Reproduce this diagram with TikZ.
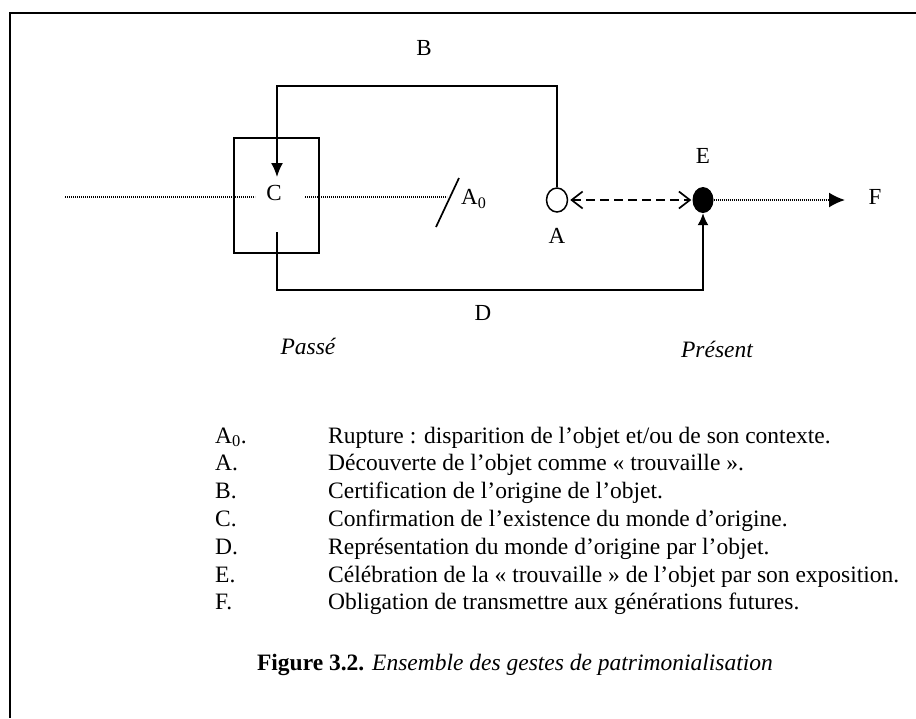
\documentclass[tikz,border=0pt]{standalone}
\usepackage{fontspec}
\setmainfont{Liberation Serif}
\usetikzlibrary{arrows.meta,shapes.geometric}
\begin{document}
\begin{tikzpicture}[x=1pt,y=-1pt,
  lbl/.style={font=\fontsize{23}{26}\selectfont, inner sep=0pt},
  leg/.style={font=\fontsize{23.5}{26}\selectfont, inner sep=0pt, anchor=base west},
  conn/.style={line width=1.7pt},
  dots/.style={line width=1.9pt, dash pattern=on 0.9pt off 1.1pt},
  fillarrow/.style={-{Latex[length=14pt,width=12pt]}},
]
\useasboundingbox (0,0) rectangle (916,718);
\fill[white] (0,0) rectangle (916,718);
% frame
\draw[line width=2.8pt] (916,13) -- (10,13) -- (10,718);

% box C
\node[draw, line width=1.7pt, minimum width=85pt, minimum height=115pt, inner sep=0pt] (box) at (276.5,195.5) {};
\node[lbl] (C) at (274,193) {C};
\coordinate (Cin) at (277,177);
\coordinate (Cout) at (277,232);

% dotted timeline
\coordinate (L0) at (65,197);
\coordinate (L1) at (255,197);
\coordinate (R0) at (305,197);
\coordinate (R1) at (447,197);
\draw[dots] (L0) -- (L1);
\draw[dots] (R0) -- (R1);

% slash A0
\coordinate (s1) at (436,227);
\coordinate (s2) at (459,178);
\draw[line width=1.7pt] (s1) -- (s2);
\node[lbl, anchor=west] (A0) at (461,199) {A\textsubscript{0}};

% node A (open) and E (filled)
\node[draw, ellipse, line width=1.5pt, minimum width=21pt, minimum height=24pt, inner sep=0pt] (A) at (557,200) {};
\node[fill=black, ellipse, minimum width=21pt, minimum height=26pt, inner sep=0pt] (E) at (703,200) {};
\node[lbl] (Alab) at (557,236) {A};
\node[lbl] (Elab) at (703,156) {E};
\node[lbl] (B) at (424,48) {B};
\node[lbl] (D) at (483,313) {D};
\coordinate (Fend) at (845,200);
\node[lbl] (F) at (875,197) {F};

% B connector
\draw[conn, fillarrow] (A.north) -- (557,86) -- (277,86) -- (Cin);
% D connector
\draw[conn, -{Latex[length=12pt,width=11pt]}] (Cout) -- (277,290) -- (703,290) -- (E.south);
% A <-> E dashed
\draw[line width=1.7pt, dash pattern=on 9pt off 5pt, {Straight Barb[length=11pt,width=17pt,line width=1.7pt]}-{Straight Barb[length=11pt,width=17pt,line width=1.7pt]}] ([xshift=2pt]A.east) -- ([xshift=-1pt]E.west);
% E -> F dotted
\draw[dots, -{Latex[length=16pt,width=15pt]}] (E.east) -- (Fend);

\node[font=\fontsize{23.5}{26}\selectfont\itshape, inner sep=0pt] (passe) at (308,346) {Passé};
\node[font=\fontsize{23.5}{26}\selectfont\itshape, inner sep=0pt] (present) at (717,349) {Présent};

% legend
\node[leg] (k0) at (215,443) {A\textsubscript{0}.};
\node[leg] (t0) at (328,443) {Rupture : disparition de l’objet et/ou de son contexte.};
\node[leg] (k1) at (215,470.8) {A.};
\node[leg] (t1) at (328,470.8) {Découverte de l’objet comme « trouvaille ».};
\node[leg] (k2) at (215,498.6) {B.};
\node[leg] (t2) at (328,498.6) {Certification de l’origine de l’objet.};
\node[leg] (k3) at (215,526.4) {C.};
\node[leg] (t3) at (328,526.4) {Confirmation de l’existence du monde d’origine.};
\node[leg] (k4) at (215,554.2) {D.};
\node[leg] (t4) at (328,554.2) {Représentation du monde d’origine par l’objet.};
\node[leg] (k5) at (215,582) {E.};
\node[leg] (t5) at (328,582) {Célébration de la « trouvaille » de l’objet par son exposition.};
\node[leg] (k6) at (215,609.8) {F.};
\node[leg] (t6) at (328,609.8) {Obligation de transmettre aux générations futures.};

\node[font=\fontsize{23.5}{26}\selectfont, inner sep=0pt, anchor=base] (cap) at (515,670) {\textbf{Figure 3.2.} \textit{Ensemble des gestes de patrimonialisation}};
\end{tikzpicture}
\end{document}
